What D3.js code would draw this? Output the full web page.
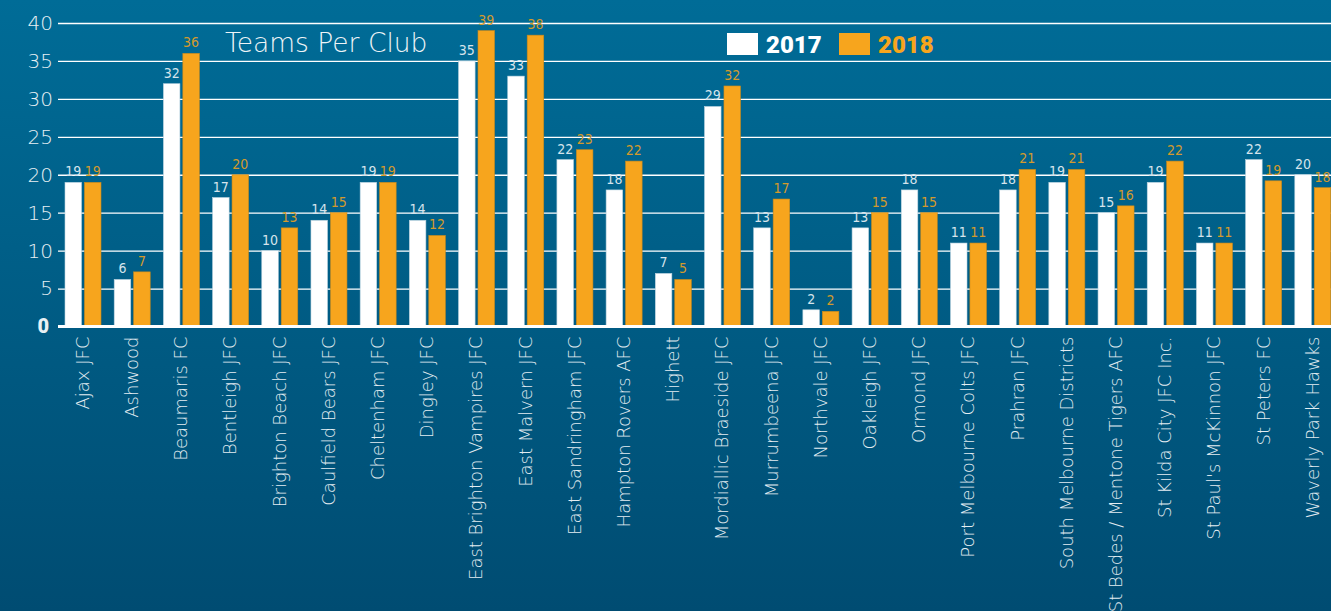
<!DOCTYPE html>
<html>
<head>
<meta charset="utf-8">
<script src="https://d3js.org/d3.v7.min.js"></script>
<style>
  html, body { margin: 0; padding: 0; background: #005a82; }
  svg { display: block; }
  .grid line { stroke: #ffffff; stroke-width: 1.3; }
  .grid .domain { stroke: none; }
  .y text { fill: #e8f0f4; font-family: "DejaVu Sans", sans-serif; font-weight: 200; font-size: 20px; }
  .x text { fill: #e4edf2; font-family: "DejaVu Sans", sans-serif; font-weight: 200; font-size: 18px; }
  .val { font-family: "DejaVu Sans Condensed", "Liberation Sans Narrow", sans-serif; font-weight: 200; font-size: 14px; }
</style>
</head>
<body>
<script>
// clubs along the x axis
var clubs = ['Ajax JFC', 'Ashwood', 'Beaumaris FC', 'Bentleigh JFC', 'Brighton Beach JFC',
  'Caulfield Bears JFC', 'Cheltenham JFC', 'Dingley JFC', 'East Brighton Vampires JFC',
  'East Malvern JFC', 'East Sandringham JFC', 'Hampton Rovers AFC', 'Highett',
  'Mordiallic Braeside JFC', 'Murrumbeena JFC', 'Northvale JFC', 'Oakleigh JFC', 'Ormond JFC',
  'Port Melbourne Colts JFC', 'Prahran JFC', 'South Melbourne Districts',
  'St Bedes / Mentone Tigers AFC', 'St Kilda City JFC Inc.', "St Paul's McKinnon JFC",
  'St Peters FC', 'Waverly Park Hawks'];

var years = ['2017', '2018'];

// bar heights
var teams2017 = [19, 6.2, 32, 17, 10, 14, 19, 14, 35, 33, 22, 18, 7, 29, 13, 2.2, 13, 18, 11, 18, 19, 15, 19, 11, 22, 20];
var teams2018 = [19, 7.2, 36, 20, 13, 15, 19, 12, 39, 38.4, 23.3, 21.8, 6.2, 31.7, 16.8, 2, 15, 15, 11, 20.7, 20.7, 15.9, 21.8, 11, 19.2, 18.3];

// the printed labels
var labels2017 = [19, 6, 32, 17, 10, 14, 19, 14, 35, 33, 22, 18, 7, 29, 13, 2, 13, 18, 11, 18, 19, 15, 19, 11, 22, 20];
var labels2018 = [19, 7, 36, 20, 13, 15, 19, 12, 39, 38, 23, 22, 5, 32, 17, 2, 15, 15, 11, 21, 21, 16, 22, 11, 19, 18];

var yTicks = [0, 5, 10, 15, 20, 25, 30, 35, 40];

var colors = {'2017': '#ffffff', '2018': '#f7a51d'};
var labelColors = {'2017': '#d6e4ec', '2018': '#d39a2c'};

var W = 1331, H = 611;

var data = clubs.map((c, i) => ({
  club: c,
  vals: [
    {year: '2017', v: teams2017[i], label: labels2017[i]},
    {year: '2018', v: teams2018[i], label: labels2018[i]}
  ]
}));

var x = d3.scaleBand().domain(clubs).range([58, 1337]);
var xSub = d3.scaleBand().domain(years).range([7, 43]).paddingInner(0.15);
var y = d3.scaleLinear().domain([0, 40]).range([326.5, 23]);

var svg = d3.select('body').append('svg')
  .attr('width', W)
  .attr('height', H);

var defs = svg.append('defs');
var grad = defs.append('linearGradient')
  .attr('id', 'bg')
  .attr('x1', 0).attr('y1', 0).attr('x2', 0).attr('y2', 1);
grad.append('stop').attr('offset', '0%').attr('stop-color', '#006c97');
grad.append('stop').attr('offset', '100%').attr('stop-color', '#004c72');

svg.append('rect')
  .attr('width', W)
  .attr('height', H)
  .attr('fill', 'url(#bg)');

// gridlines
svg.append('g')
  .attr('class', 'grid')
  .attr('transform', 'translate(58,0)')
  .call(d3.axisLeft(y).tickValues(yTicks.slice(1)).tickSize(-(W - 58)).tickFormat(''))
  .call(g => g.selectAll('.tick line').attr('x1', 0));

// y tick labels
var yAxis = svg.append('g')
  .attr('class', 'y')
  .attr('transform', 'translate(53,0)')
  .call(d3.axisLeft(y).tickValues(yTicks).tickSize(0).tickPadding(0));
yAxis.select('.domain').remove();
yAxis.selectAll('text')
  .filter(d => d === 0)
  .style('font-weight', 900)
  .style('font-family', 'Roboto, sans-serif')
  .attr('dx', '-4');

// bars
var groups = svg.selectAll('.club')
  .data(data)
  .enter().append('g')
  .attr('class', 'club')
  .attr('transform', d => `translate(${x(d.club)},0)`);

groups.selectAll('rect')
  .data(d => d.vals)
  .enter().append('rect')
  .attr('x', d => xSub(d.year))
  .attr('width', xSub.bandwidth())
  .attr('y', d => y(d.v))
  .attr('height', d => y(0) - y(d.v))
  .attr('fill', d => colors[d.year])
  .attr('stroke', d => d.year === '2017' ? '#b9d3e0' : '#c98a1c')
  .attr('stroke-width', 0.6);

groups.selectAll('text.val')
  .data(d => d.vals)
  .enter().append('text')
  .attr('class', 'val')
  .attr('x', d => xSub(d.year) + xSub.bandwidth() / 2)
  .attr('y', d => y(d.v) - 6)
  .attr('text-anchor', 'middle')
  .attr('fill', d => labelColors[d.year])
  .text(d => d.label);

// zero line
svg.append('line')
  .attr('x1', 58).attr('x2', W)
  .attr('y1', y(0)).attr('y2', y(0))
  .attr('stroke', '#ffffff')
  .attr('stroke-width', 3);

// x axis labels
var xAxis = svg.append('g')
  .attr('class', 'x')
  .attr('transform', `translate(0,${y(0)})`)
  .call(d3.axisBottom(x).tickSize(0));
xAxis.select('.domain').remove();
xAxis.selectAll('text')
  .attr('transform', 'rotate(-90)')
  .attr('text-anchor', 'end')
  .attr('x', -10)
  .attr('y', 0)
  .attr('dy', '0.35em');

// title
svg.append('text')
  .attr('x', 225)
  .attr('y', 52)
  .attr('fill', '#eef4f7')
  .style('font-family', '"DejaVu Sans", sans-serif')
  .style('font-weight', 200)
  .style('font-size', '26.5px')
  .text('Teams Per Club');

// legend
var legend = svg.append('g').attr('transform', 'translate(727,33)');
var leg = legend.selectAll('g')
  .data(years)
  .enter().append('g')
  .attr('transform', (d, i) => `translate(${i * 112},0)`);
leg.append('rect')
  .attr('width', 31)
  .attr('height', 22)
  .attr('fill', d => colors[d]);
leg.append('text')
  .attr('x', 39)
  .attr('y', 20)
  .attr('fill', d => colors[d])
  .style('font-family', 'Roboto, sans-serif')
  .style('font-weight', 900)
  .style('font-size', '24px')
  .text(d => d);
</script>
</body>
</html>
